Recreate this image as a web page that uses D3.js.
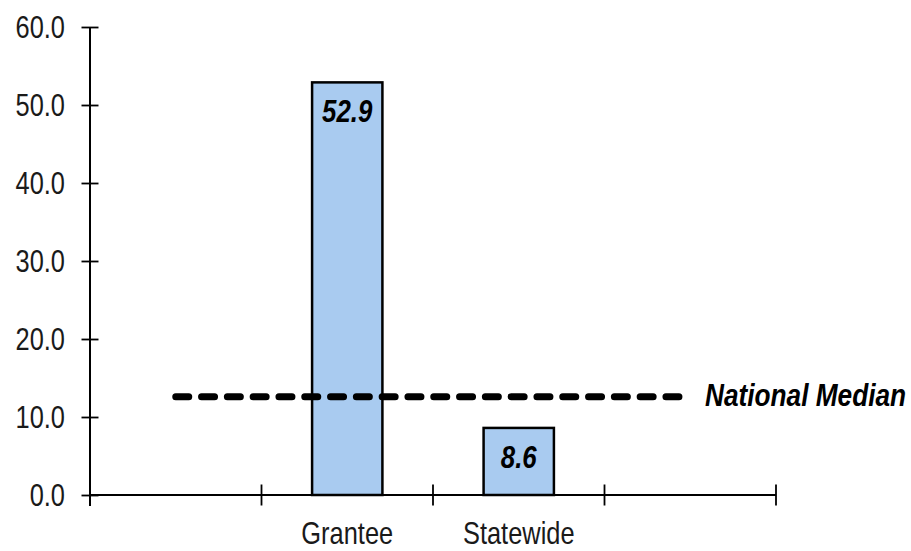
<!DOCTYPE html>
<html>
<head>
<meta charset="utf-8">
<script src="https://cdn.jsdelivr.net/npm/d3@7"></script>
<style>
  html, body { margin: 0; padding: 0; background: #fff; }
  svg { display: block; }
  text { font-family: "Liberation Sans", Arial, sans-serif; }
</style>
</head>
<body>
<svg id="chart" width="911" height="551"></svg>
<script>
// ---- data ----
const categories = ["", "Grantee", "Statewide", ""];
const values = [null, 52.9, 8.6, null];
const valueLabels = [null, "52.9", "8.6", null];
const medianValues = [12.6, 12.6, 12.6, 12.6];
const medianLabel = "National Median";
const yTicks = [0, 10, 20, 30, 40, 50, 60];

// ---- layout ----
const svg = d3.select("#chart");
const plotLeft = 90, plotRight = 776, plotTop = 27, plotBottom = 495;
const narrow = 0.82; // emulate a condensed (Arial Narrow-like) face

const x = d3.scaleBand().domain(d3.range(categories.length)).range([plotLeft, plotRight]).padding(0);
const y = d3.scaleLinear().domain([0, 60]).range([plotBottom, plotTop]);
const barW = x.bandwidth() * 0.41;

function place(sel, fx, fy) {
  sel.attr("transform", (d, i) => `translate(${fx(d, i)},${fy(d, i)}) scale(${narrow},1)`);
}

// bars
svg.append("g").selectAll("rect")
  .data(values.map((v, i) => ({ v, i })).filter(d => d.v != null))
  .join("rect")
  .attr("x", d => x(d.i) + x.bandwidth() / 2 - barW / 2)
  .attr("y", d => y(d.v))
  .attr("width", barW)
  .attr("height", d => y(0) - y(d.v))
  .attr("fill", "#a9cbf0")
  .attr("stroke", "#000")
  .attr("stroke-width", 2.5);

// value labels
svg.append("g").selectAll("text")
  .data(values.map((v, i) => ({ v, i, t: valueLabels[i] })).filter(d => d.v != null))
  .join("text")
  .call(place, d => x(d.i) + x.bandwidth() / 2, d => y(d.v) + 40)
  .attr("text-anchor", "middle")
  .attr("font-size", 31.5)
  .attr("font-weight", "bold")
  .attr("font-style", "italic")
  .attr("fill", "#000")
  .text(d => d.t);

// y axis
const yAxis = svg.append("g").attr("transform", `translate(${plotLeft},0)`)
  .call(d3.axisLeft(y).tickValues(yTicks).tickFormat(d3.format(".1f")).tickSize(0).tickPadding(25));
yAxis.attr("font-family", null).attr("font-size", null);
yAxis.select(".domain").attr("stroke", "#000").attr("stroke-width", 2).attr("d", `M0,${plotTop}V${plotBottom + 11}`);
yAxis.selectAll(".tick text")
  .attr("font-size", 31).attr("fill", "#1a1a1a").attr("dy", "0.35em")
  .attr("x", -25 / narrow).attr("transform", `scale(${narrow},1)`);
yAxis.selectAll(".tick").append("line")
  .attr("x1", -8.5).attr("x2", 8.5).attr("stroke", "#000").attr("stroke-width", 1.8);

// x axis
const xAxisG = svg.append("g");
xAxisG.append("line")
  .attr("x1", plotLeft).attr("x2", plotRight).attr("y1", plotBottom).attr("y2", plotBottom)
  .attr("stroke", "#000").attr("stroke-width", 2);
const boundaries = d3.range(categories.length + 1).map(i => i < categories.length ? x(i) : x(categories.length - 1) + x.bandwidth());
xAxisG.selectAll("line.tk").data(boundaries).join("line").attr("class", "tk")
  .attr("x1", d => d).attr("x2", d => d)
  .attr("y1", plotBottom - 10.5).attr("y2", plotBottom + 10.5)
  .attr("stroke", "#000").attr("stroke-width", 1.8);
xAxisG.selectAll("text").data(categories.map((c, i) => ({ c, i })).filter(d => d.c))
  .join("text")
  .call(place, d => x(d.i) + x.bandwidth() / 2, () => 544)
  .attr("text-anchor", "middle")
  .attr("font-size", 31)
  .attr("fill", "#1a1a1a")
  .text(d => d.c);

// national median dashed line
const line = d3.line()
  .x((d, i) => x(i) + x.bandwidth() / 2)
  .y(d => y(d));
svg.append("path")
  .datum(medianValues)
  .attr("d", line)
  .attr("fill", "none")
  .attr("stroke", "#000")
  .attr("stroke-width", 7)
  .attr("stroke-linecap", "round")
  .attr("stroke-dasharray", "13 12.8");

svg.append("text")
  .datum(medianValues[medianValues.length - 1])
  .call(place, () => 705, d => y(d) + 9)
  .attr("font-size", 32)
  .attr("font-weight", "bold")
  .attr("font-style", "italic")
  .attr("fill", "#000")
  .text(medianLabel);
</script>
</body>
</html>
